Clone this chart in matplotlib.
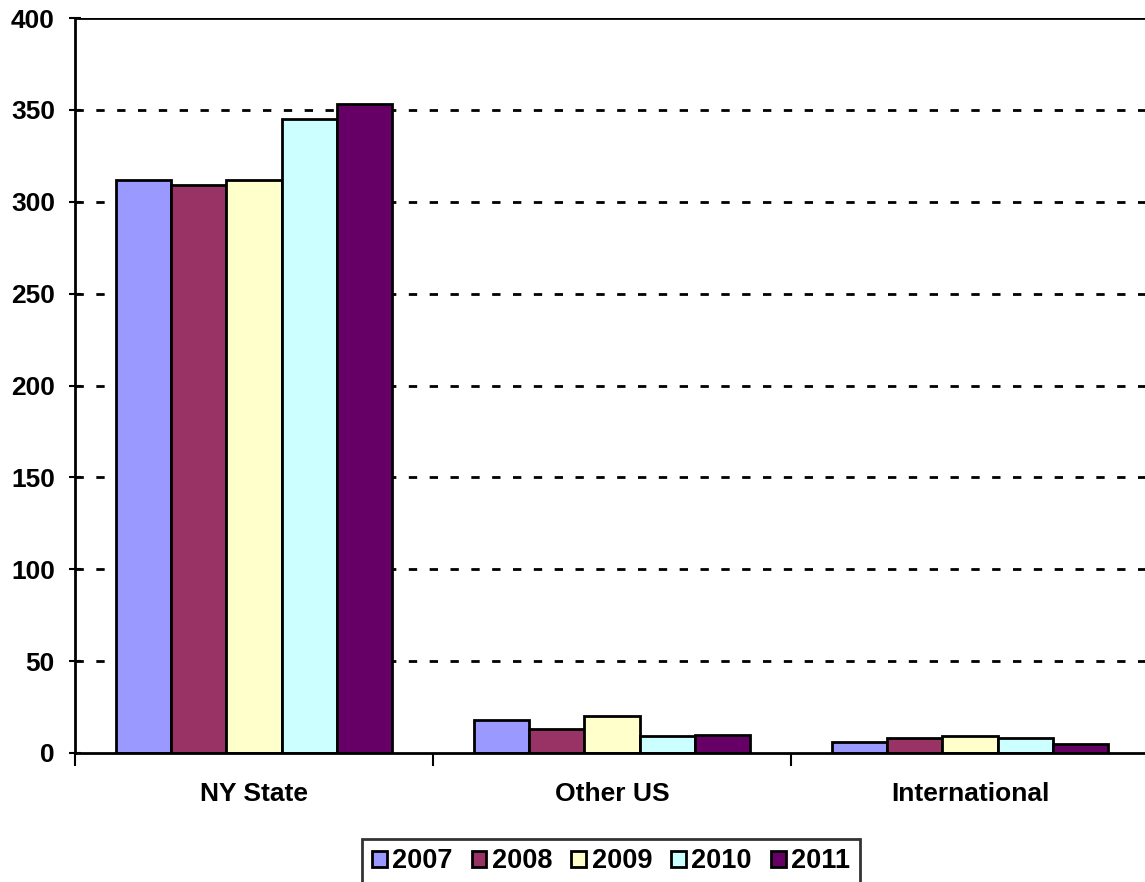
import matplotlib
matplotlib.use("Agg")
import matplotlib.pyplot as plt
import numpy as np

plt.rcParams['font.family'] = ['Liberation Sans', 'DejaVu Sans']
plt.rcParams['font.weight'] = 'bold'

categories = ['NY State', 'Other US', 'International']
years = ['2007', '2008', '2009', '2010', '2011']
values = {
    '2007': [312, 18, 6],
    '2008': [309, 13, 8],
    '2009': [312, 20, 9],
    '2010': [345, 9, 8],
    '2011': [353, 10, 5],
}
colors = ['#9999FF', '#993366', '#FFFFCC', '#CCFFFF', '#660066']

fig = plt.figure(figsize=(11.45, 8.82), dpi=100)
W, H = 1145, 882
ax = fig.add_axes([75 / W, 1 - 753 / H, (1149 - 75) / W, (753 - 18) / H])

x = np.arange(len(categories))
bw = 1 / 6.5
for i, yr in enumerate(years):
    ax.bar(x + (i - 2) * bw, values[yr], bw, color=colors[i],
           edgecolor='black', linewidth=2, label=yr, zorder=3)

ax.set_xlim(-0.5, 2.5)
ax.set_ylim(0, 400)
ax.set_yticks(range(0, 401, 50))
for yv in range(50, 400, 50):
    ax.axhline(yv, color='black', linestyle=(0, (3, 4.5)), linewidth=2, zorder=1)
ax.axhline(400, color='black', linewidth=2, zorder=1)

ax.set_xticks([-0.5, 0.5, 1.5, 2.5])
ax.set_xticklabels([])
ax.set_xticks(x, minor=True)
ax.set_xticklabels(categories, minor=True, fontsize=19, fontweight='bold')
ax.tick_params(axis='x', which='minor', length=0, pad=21)
ax.tick_params(axis='x', which='major', length=9, width=1.5, direction='out')
ax.tick_params(axis='y', length=9, width=1.5, direction='inout', labelsize=19, pad=10)
for lbl in ax.get_yticklabels():
    lbl.set_fontweight('bold')

for s in ['top', 'right']:
    ax.spines[s].set_visible(False)
ax.spines['left'].set_linewidth(2)
ax.spines['bottom'].set_linewidth(2)
ax.spines['left'].set_zorder(4)
ax.spines['bottom'].set_zorder(4)

leg = fig.legend(loc='upper center', bbox_to_anchor=(611 / W, 1 - 839 / H),
                 ncol=5, fontsize=19.5, frameon=True, fancybox=False,
                 handlelength=0.55, handleheight=0.55, handletextpad=0.2,
                 columnspacing=0.7, borderpad=0.35, borderaxespad=0)
leg.get_frame().set_edgecolor('black')
leg.get_frame().set_linewidth(2)
for t in leg.get_texts():
    t.set_fontweight('bold')

fig.savefig('out.png', dpi=100)
